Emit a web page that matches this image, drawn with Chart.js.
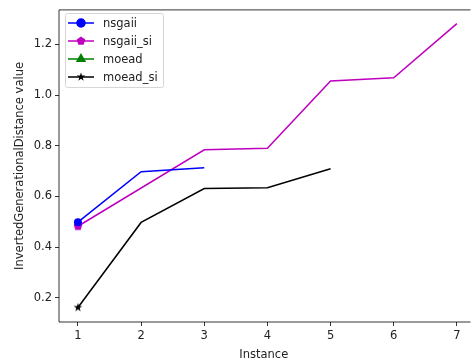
<!DOCTYPE html>
<html>
<head>
<meta charset="utf-8">
<script src="https://cdn.jsdelivr.net/npm/chart.js@4/dist/chart.umd.min.js"></script>
<style>
  html, body { margin: 0; padding: 0; background: #fff; }
  #wrap { width: 473px; height: 362px; }
</style>
</head>
<body>
<div id="wrap"><canvas id="igdChart"></canvas></div>
<script>
// IGD values per instance
const nsgaiiX = [1, 2, 3];
const nsgaiiY = [0.498, 0.697, 0.713];
const nsgaiiSiX = [1, 3, 4, 5, 6, 7];
const nsgaiiSiY = [0.482, 0.784, 0.790, 1.055, 1.068, 1.282];
const moeadX = [1];
const moeadY = [0.495];
const moeadSiX = [1, 2, 3, 4, 5];
const moeadSiY = [0.161, 0.497, 0.631, 0.634, 0.709];

const xTicks = [1, 2, 3, 4, 5, 6, 7];
const yTicks = [0.2, 0.4, 0.6, 0.8, 1.0, 1.2];

const FONT = "DejaVu Sans";
const FS = 11.5;

// small canvases for marker shapes chart.js doesn't have
function markerCanvas(color, sides, inner) {
  let c = document.createElement("canvas");
  c.width = 12; c.height = 12;
  let g = c.getContext("2d");
  g.fillStyle = color;
  g.beginPath();
  let n = inner ? sides * 2 : sides;
  for (let i = 0; i < n; i++) {
    let a = -Math.PI / 2 + i * 2 * Math.PI / n;
    let r = inner && i % 2 ? 4.5 * inner : 4.5;
    let px = 6 + r * Math.cos(a), py = 6 + r * Math.sin(a);
    if (i === 0) g.moveTo(px, py); else g.lineTo(px, py);
  }
  g.closePath();
  g.fill();
  return c;
}
const pentagon = markerCanvas("#bf00bf", 5);
const star = markerCanvas("#000000", 5, 0.4);

function toPoints(xs, ys) {
  return xs.map((x, i) => ({ x: x, y: ys[i] }));
}

// marker only on the first point of each line
function firstOnly(r, n) {
  return Array.from({ length: n }, (_, i) => i === 0 ? r : 0);
}

const series = [
  { label: "nsgaii", xs: nsgaiiX, ys: nsgaiiY, color: "#0000ff", style: "circle", r: 4 },
  { label: "nsgaii_si", xs: nsgaiiSiX, ys: nsgaiiSiY, color: "#bf00bf", style: pentagon, r: 4 },
  { label: "moead", xs: moeadX, ys: moeadY, color: "#008000", style: "triangle", r: 4.5 },
  { label: "moead_si", xs: moeadSiX, ys: moeadSiY, color: "#000000", style: star, r: 4 }
];

// frame + legend box drawn on top
const framePlugin = {
  id: "frame",
  afterDraw(chart) {
    let ctx = chart.ctx, a = chart.chartArea;
    ctx.save();
    ctx.strokeStyle = "#000";
    ctx.lineWidth = 0.8;
    ctx.beginPath();
    ctx.moveTo(a.left, a.top); ctx.lineTo(a.right + 2, a.top);
    ctx.moveTo(a.left, a.top); ctx.lineTo(a.left, a.bottom);
    ctx.moveTo(a.left, a.bottom); ctx.lineTo(a.right + 2, a.bottom);
    ctx.stroke();

    // legend
    let bx = 65.5, by = 13.5, bw = 98, bh = 74;
    ctx.fillStyle = "rgba(255,255,255,0.8)";
    ctx.strokeStyle = "#d6d6d6";
    ctx.lineWidth = 1;
    ctx.beginPath();
    ctx.roundRect(bx, by, bw, bh, 2);
    ctx.fill();
    ctx.stroke();
    ctx.font = FS + "px '" + FONT + "'";
    ctx.textBaseline = "middle";
    series.forEach((s, i) => {
      let y = 23 + i * 18;
      ctx.strokeStyle = s.color;
      ctx.lineWidth = 1.5;
      ctx.beginPath();
      ctx.moveTo(68, y); ctx.lineTo(94, y);
      ctx.stroke();
      ctx.fillStyle = s.color;
      ctx.strokeStyle = s.color;
      Chart.helpers.drawPoint(ctx, { pointStyle: s.style, radius: s.r, borderWidth: 1 }, 81, y);
      ctx.fillStyle = "#222";
      ctx.fillText(s.label, 103, y + 1);
    });
    ctx.restore();
  }
};

let ctx = document.getElementById("igdChart").getContext("2d");
new Chart(ctx, {
  type: "line",
  data: {
    datasets: series.map(s => ({
      label: s.label,
      data: toPoints(s.xs, s.ys),
      borderColor: s.color,
      backgroundColor: s.color,
      borderWidth: 1.5,
      pointStyle: s.style,
      pointRadius: firstOnly(s.r, s.xs.length),
      pointBorderWidth: 0,
      tension: 0
    }))
  },
  options: {
    responsive: true,
    maintainAspectRatio: false,
    animation: false,
    layout: { padding: { top: 8, right: 0, left: 13, bottom: 0 } },
    plugins: { legend: { display: false }, tooltip: { enabled: false } },
    scales: {
      x: {
        type: "linear",
        min: 0.7,
        max: 7.184,
        afterBuildTicks: scale => { scale.ticks = xTicks.map(v => ({ value: v })); },
        afterFit: scale => { scale.height = 40; },
        grid: { drawOnChartArea: false, color: "#000", tickLength: 4, tickWidth: 0.8 },
        border: { display: false },
        ticks: { color: "#222", font: { family: FONT, size: FS }, padding: 3, maxRotation: 0 },
        title: { display: true, text: "Instance", color: "#222", font: { family: FONT, size: FS }, padding: { top: 1, bottom: 0 } }
      },
      y: {
        min: 0.104,
        max: 1.336,
        afterBuildTicks: scale => { scale.ticks = yTicks.map(v => ({ value: v })); },
        afterFit: scale => { scale.width = 46; },
        grid: { drawOnChartArea: false, color: "#000", tickLength: 4, tickWidth: 0.8 },
        border: { display: false },
        ticks: { color: "#222", font: { family: FONT, size: FS }, padding: 3, callback: v => v.toFixed(1) },
        title: { display: true, text: "InvertedGenerationalDistance value", color: "#222", font: { family: FONT, size: FS }, padding: { top: 0, bottom: 0 } }
      }
    }
  },
  plugins: [framePlugin]
});
</script>
</body>
</html>
